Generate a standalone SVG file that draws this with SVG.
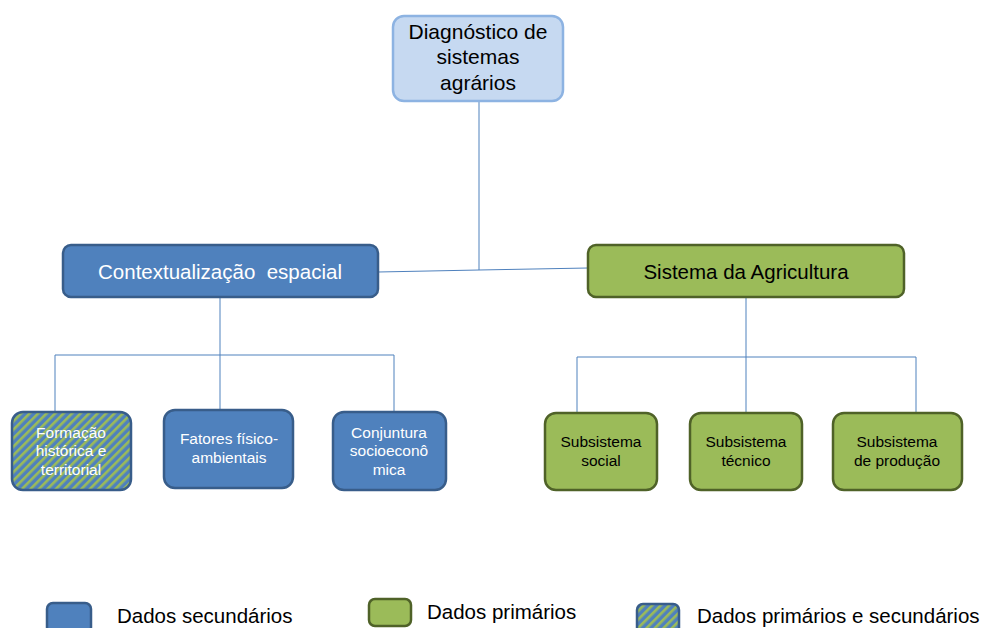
<svg xmlns="http://www.w3.org/2000/svg" width="987" height="628" viewBox="0 0 987 628">
<defs>
<pattern id="hatch" patternUnits="userSpaceOnUse" width="6" height="6" patternTransform="rotate(45)">
<rect width="6" height="6" fill="#4f81bd"/>
<rect width="2.6" height="6" fill="#9bbb59"/>
</pattern>
</defs>
<style>
.blue{fill:#4f81bd;stroke:#385d8a;stroke-width:2.5}
.green{fill:#9bbb59;stroke:#4f6228;stroke-width:2.5}
.hatch{fill:url(#hatch);stroke:#385d8a;stroke-width:2.5}
.top{fill:#c6d9f1;stroke:#8db3e2;stroke-width:2.5}
text{font-family:"Liberation Sans",Arial,sans-serif;text-anchor:middle}
.w{fill:#ffffff}
.k{fill:#000000}
.s{font-size:15.5px}
.l{font-size:20.5px}
.leg{font-size:20.5px;text-anchor:start;fill:#000}
.c{fill:none;stroke:#4f81bd;stroke-width:1}
</style>
<rect width="987" height="628" fill="#ffffff"/>
<g id="connectors">
<polyline class="c" points="479,101 479,270"/>
<polyline class="c" points="378,272 479,270 588,268"/>
<polyline class="c" points="220,297 220,355"/>
<polyline class="c" points="55,413 55,355 394,355 394,413"/>
<polyline class="c" points="220,355 220,411"/>
<polyline class="c" points="746,297 746,357"/>
<polyline class="c" points="577,414 577,357 916,357 916,414"/>
<polyline class="c" points="746,357 746,414"/>
</g>
<g id="n_diag">
<rect class="top" x="393" y="16" width="170" height="85" rx="11"/>
<text class="k" x="478" y="39" font-size="21">Diagnóstico de</text>
<text class="k" x="478" y="64" font-size="21">sistemas</text>
<text class="k" x="478" y="90" font-size="21">agrários</text>
</g>
<g id="n_context">
<rect class="blue" x="63" y="245" width="315" height="52" rx="8"/>
<text class="w l" x="220" y="279" xml:space="preserve">Contextualização  espacial</text>
</g>
<g id="n_sistema">
<rect class="green" x="588" y="245" width="316" height="52" rx="8"/>
<text class="k l" x="746" y="279">Sistema da Agricultura</text>
</g>
<g id="n_formacao">
<rect class="hatch" x="12" y="412" width="119" height="78" rx="11"/>
<text class="w s" x="71" y="438">Formação</text>
<text class="w s" x="71" y="456">histórica e</text>
<text class="w s" x="71" y="475">territorial</text>
</g>
<g id="n_fatores">
<rect class="blue" x="164" y="410" width="129" height="78" rx="11"/>
<text class="w s" x="229" y="444">Fatores físico-</text>
<text class="w s" x="229" y="463">ambientais</text>
</g>
<g id="n_conjuntura">
<rect class="blue" x="333" y="412" width="113" height="78" rx="11"/>
<text class="w s" x="389" y="438">Conjuntura</text>
<text class="w s" x="389" y="456">socioeconô</text>
<text class="w s" x="389" y="475">mica</text>
</g>
<g id="n_social">
<rect class="green" x="545" y="413" width="112" height="77" rx="11"/>
<text class="k s" x="601" y="447">Subsistema</text>
<text class="k s" x="601" y="466">social</text>
</g>
<g id="n_tecnico">
<rect class="green" x="690" y="413" width="112" height="77" rx="11"/>
<text class="k s" x="746" y="447">Subsistema</text>
<text class="k s" x="746" y="466">técnico</text>
</g>
<g id="n_producao">
<rect class="green" x="833" y="413" width="129" height="77" rx="11"/>
<text class="k s" x="897" y="447">Subsistema</text>
<text class="k s" x="897" y="466">de produção</text>
</g>
<g id="legend">
<rect class="blue" x="47" y="603" width="44" height="30" rx="6"/>
<text class="leg" x="117" y="623">Dados secundários</text>
<rect class="green" x="369" y="599" width="42" height="27" rx="6"/>
<text class="leg" x="427" y="619">Dados primários</text>
<rect class="hatch" x="637" y="604" width="42" height="30" rx="6"/>
<text class="leg" x="697" y="623">Dados primários e secundários</text>
</g>
</svg>
